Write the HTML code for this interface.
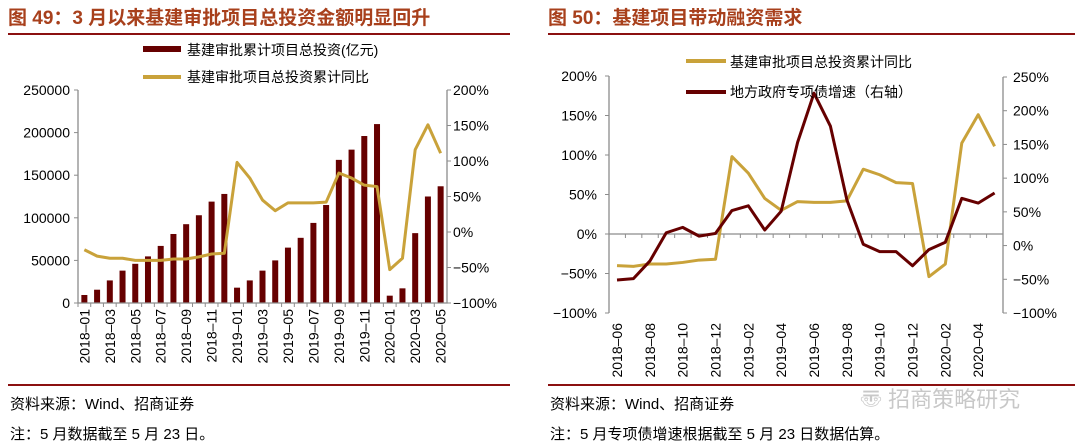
<!DOCTYPE html>
<html><head><meta charset="utf-8"><style>
body{margin:0;background:#fff;width:1080px;height:444px;overflow:hidden}
svg{display:block}
text{font-family:"Liberation Sans","Noto Sans CJK SC",sans-serif}
</style></head><body>
<svg id="c" width="1080" height="444" viewBox="0 0 1080 444" xmlns="http://www.w3.org/2000/svg">
<text x="8" y="24" font-size="19" font-weight="bold" fill="#a8401c">图 49：3 月以来基建审批项目总投资金额明显回升</text>
<text x="548" y="24" font-size="19" font-weight="bold" fill="#a8401c">图 50：基建项目带动融资需求</text>
<rect x="8" y="33" width="502" height="2" fill="#8b1010"/>
<rect x="548" y="33" width="527" height="2" fill="#8b1010"/>
<rect x="8" y="384" width="502" height="2" fill="#8b1010"/>
<rect x="548" y="384" width="527" height="2" fill="#8b1010"/>
<text x="10" y="409" font-size="15">资料来源：Wind、招商证券</text>
<text x="10" y="439" font-size="15">注：5 月数据截至 5 月 23 日。</text>
<text x="550" y="409" font-size="15">资料来源：Wind、招商证券</text>
<text x="550" y="439" font-size="15">注：5 月专项债增速根据截至 5 月 23 日数据估算。</text>
<text x="860" y="407" font-size="22" fill="#c8c8c8">〠 招商策略研究</text>
<g id="left"></g><g id="right"></g>
</svg>
<script>
// Left chart data
const leftCats=["2018-01","2018-02","2018-03","2018-04","2018-05","2018-06","2018-07","2018-08","2018-09","2018-10","2018-11","2018-12","2019-01","2019-02","2019-03","2019-04","2019-05","2019-06","2019-07","2019-08","2019-09","2019-10","2019-11","2019-12","2020-01","2020-02","2020-03","2020-04","2020-05"];
const leftBars=[9400,15600,26500,38000,46000,54700,67000,81000,92500,103000,119000,128000,18000,26500,38000,50000,65000,76500,94000,115000,168000,180000,196000,210000,8600,17200,82000,125000,137000];
const leftLine=[-25,-34,-37,-37,-40,-40,-40,-38,-38,-35,-31,-30,98,76,45,30,41,41,41,42,83,76,66,64,-53,-37,116,151,111];
const leftYTicks=[0,50000,100000,150000,200000,250000];
const leftY2Ticks=[-100,-50,0,50,100,150,200];
// Right chart data
const rightCats=["2018-06","2018-07","2018-08","2018-09","2018-10","2018-11","2018-12","2019-01","2019-02","2019-03","2019-04","2019-05","2019-06","2019-07","2019-08","2019-09","2019-10","2019-11","2019-12","2020-01","2020-02","2020-03","2020-04","2020-05"];
const rightGold=[-40,-41,-38,-38,-36,-33,-32,98,77,45,30,41,40,40,42,82,75,65,64,-54,-38,115,151,111];
const rightRed=[-51,-49,-23,19,27,14,18,52,59,23,51,153,226,177,68,2,-9,-9,-30,-6,5,70,63,78];
const rightYTicks=[-100,-50,0,50,100,150,200];
const rightY2Ticks=[-100,-50,0,50,100,150,200,250];

const NS="http://www.w3.org/2000/svg";
function mk(p,t,a){const e=document.createElementNS(NS,t);for(const k in a)e.setAttribute(k,a[k]);p.appendChild(e);return e;}
const GR="#8c8c8c",GOLD="#c9a23a",RED="#660000";

// LEFT
(function(){
const g=document.getElementById('left');
const x0=78,x1=447,yT=90,yB=303;
const n=leftCats.length,bw=(x1-x0)/n;
const xs=i=>x0+bw*(i+0.5);
const y1=v=>yB-(v/250000)*(yB-yT);
const y2=v=>yB-((v+100)/300)*(yB-yT);
leftBars.forEach((v,i)=>{const r=mk(g,'rect',{x:xs(i)-3,y:y1(v),width:6,height:yB-y1(v),fill:RED});

});
const pl=mk(g,'polyline',{points:leftLine.map((v,i)=>xs(i)+','+y2(v)).join(' '),fill:'none',stroke:GOLD,'stroke-width':3,'stroke-linejoin':'round'});


const ax=mk(g,'path',{d:`M${x0},${yT}V${yB}H${x1}V${yT}`,fill:'none',stroke:GR,'stroke-width':1.3});


leftYTicks.forEach(v=>{mk(g,'line',{x1:x0-4,x2:x0,y1:y1(v),y2:y1(v),stroke:GR});
const t=mk(g,'text',{x:x0-8,y:y1(v)+5,'font-size':14,'text-anchor':'end'});t.textContent=v;

});
leftY2Ticks.forEach(v=>{mk(g,'line',{x1:x1,x2:x1+4,y1:y2(v),y2:y2(v),stroke:GR});
const t=mk(g,'text',{x:x1+6,y:y2(v)+5,'font-size':14});t.textContent=(v<0?'−':'')+Math.abs(v)+'%';

});
leftCats.forEach((c,i)=>{mk(g,'line',{x1:x0+bw*i,x2:x0+bw*i,y1:yB,y2:yB+4,stroke:GR});
if(i%2===0){const t=mk(g,'text',{transform:`translate(${xs(i)+5},${yB+6}) rotate(-90)`,'font-size':14,'text-anchor':'end'});t.textContent=c.replace('-','–');

}});
mk(g,'rect',{x:143,y:46,width:38,height:6,fill:RED});
let t=mk(g,'text',{x:187,y:55,'font-size':14});t.textContent='基建审批累计项目总投资(亿元)';


mk(g,'rect',{x:143,y:75,width:38,height:4,fill:GOLD});
t=mk(g,'text',{x:187,y:82,'font-size':14});t.textContent='基建审批项目总投资累计同比';


})();

// RIGHT
(function(){
const g=document.getElementById('right');
const x0=609,x1=1003,yT=76,yB=313,z=234;
const n=rightCats.length,bw=(x1-x0)/n;
const xs=i=>x0+bw*(i+0.5)-0.2;
const yl=v=>z-v*(z-yT)/200;
const yr=v=>yB-((v+100)/350)*(yB-77);
const ax=mk(g,'path',{d:`M${x0},${yT}V${yB}M${x1},77V${yB}M${x0},${z}H${x1}`,fill:'none',stroke:GR,'stroke-width':1.3});


rightYTicks.forEach(v=>{mk(g,'line',{x1:x0-4,x2:x0,y1:yl(v),y2:yl(v),stroke:GR});
const t=mk(g,'text',{x:x0-12,y:yl(v)+5,'font-size':14,'text-anchor':'end'});t.textContent=(v<0?'−':'')+Math.abs(v)+'%';

});
rightY2Ticks.forEach(v=>{mk(g,'line',{x1:x1,x2:x1+4,y1:yr(v),y2:yr(v),stroke:GR});
const t=mk(g,'text',{x:x1+10,y:yr(v)+5,'font-size':14});t.textContent=(v<0?'−':'')+Math.abs(v)+'%';

});
rightCats.forEach((c,i)=>{mk(g,'line',{x1:x0+bw*i,x2:x0+bw*i,y1:z,y2:z+4,stroke:GR});
if(i%2===0){const t=mk(g,'text',{transform:`translate(${xs(i)+5},${yB+10}) rotate(-90)`,'font-size':14,'text-anchor':'end'});t.textContent=c.replace('-','–');

}});
const pg=mk(g,'polyline',{points:rightGold.map((v,i)=>xs(i)+','+yl(v)).join(' '),fill:'none',stroke:GOLD,'stroke-width':3,'stroke-linejoin':'round'});


const pr=mk(g,'polyline',{points:rightRed.map((v,i)=>xs(i)+','+yr(v)).join(' '),fill:'none',stroke:RED,'stroke-width':3,'stroke-linejoin':'round'});


mk(g,'rect',{x:686,y:59,width:40,height:4,fill:GOLD});
let t=mk(g,'text',{x:730,y:67,'font-size':14});t.textContent='基建审批项目总投资累计同比';


mk(g,'rect',{x:686,y:90,width:40,height:4,fill:RED});
t=mk(g,'text',{x:730,y:97,'font-size':14});t.textContent='地方政府专项债增速（右轴）';


})();
</script>
</body></html>
